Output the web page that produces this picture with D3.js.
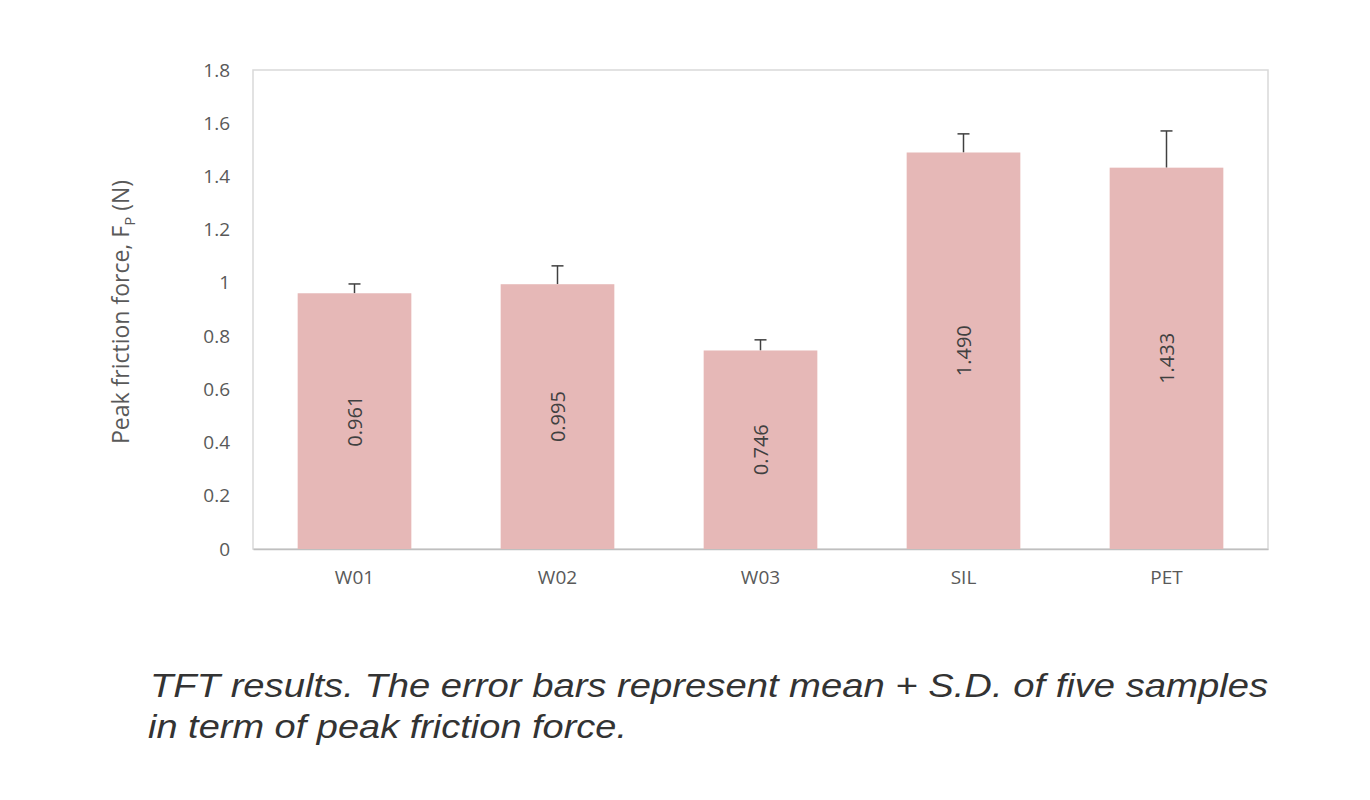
<!DOCTYPE html>
<html><head><meta charset="utf-8">
<script src="https://cdn.jsdelivr.net/npm/d3@7"></script>
<style>body{margin:0;background:#fff}</style>
</head><body>
<svg id="c" width="1370" height="800"></svg>
<script>
const categories = ["W01","W02","W03","SIL","PET"];
const means = [0.961,0.995,0.746,1.490,1.433];
const sds = [0.035,0.069,0.040,0.070,0.138];
const yTicks = [0,0.2,0.4,0.6,0.8,1,1.2,1.4,1.6,1.8];

const svg = d3.select("#c");
const L=253,R=1268,T=70,B=549;
const x = d3.scaleBand().domain(categories).range([L,R]).paddingInner(0.44).paddingOuter(0.22);
const y = d3.scaleLinear().domain([0,1.8]).range([B,T]);
const font="'Open Sans', 'Liberation Sans', sans-serif";

svg.append("rect").attr("x",L).attr("y",T).attr("width",R-L).attr("height",B-T)
  .attr("fill","none").attr("stroke","#d9d9d9").attr("stroke-width",1.5);

const ya = svg.append("g").attr("transform",`translate(${L},0)`)
  .call(d3.axisLeft(y).tickValues(yTicks).tickSize(0).tickPadding(23).tickFormat(d=>String(d)));
ya.select(".domain").remove();
ya.selectAll("text").attr("font-family",font).attr("font-size",19).attr("fill","#595959");

const xa = svg.append("g").attr("transform",`translate(0,${B})`)
  .call(d3.axisBottom(x).tickSize(0).tickPadding(22));
xa.select(".domain").attr("stroke","#bfbfbf").attr("stroke-width",1.5);
xa.selectAll("text").attr("font-family",font).attr("font-size",19).attr("fill","#595959");

const g = svg.append("g");
categories.forEach((c,i)=>{
  const cx = x(c)+x.bandwidth()/2;
  g.append("line").attr("x1",cx).attr("x2",cx).attr("y1",y(means[i])).attr("y2",y(means[i]+sds[i]))
    .attr("stroke","#404040").attr("stroke-width",1.5);
  g.append("line").attr("x1",cx-6).attr("x2",cx+6).attr("y1",y(means[i]+sds[i])).attr("y2",y(means[i]+sds[i]))
    .attr("stroke","#404040").attr("stroke-width",1.5);
  g.append("rect").attr("x",x(c)).attr("width",x.bandwidth()).attr("y",y(means[i])).attr("height",B-y(means[i]))
    .attr("fill","#e6b8b7");
  const my=(y(means[i])+B)/2;
  g.append("text").attr("transform",`translate(${cx+7},${my}) rotate(-90)`).attr("text-anchor","middle")
    .attr("font-family",font).attr("font-size",20).attr("fill","#404040").text(means[i].toFixed(3));
});

const yl = svg.append("text").attr("transform","translate(129,312) rotate(-90)").attr("text-anchor","middle")
  .attr("font-family",font).attr("font-size",23).attr("fill","#595959");
yl.append("tspan").text("Peak friction force, F");
yl.append("tspan").attr("font-size",15).attr("dy",6).text("P");
yl.append("tspan").attr("dy",-6).text(" (N)");

const cap = svg.append("g").attr("font-family","'Liberation Sans', Arial, sans-serif").attr("font-style","italic")
  .attr("font-size",34).attr("fill","#333");
cap.append("text").attr("x",150).attr("y",697).attr("textLength",1118).attr("lengthAdjust","spacingAndGlyphs")
  .text("TFT results. The error bars represent mean + S.D. of five samples");
cap.append("text").attr("x",148).attr("y",738).attr("textLength",479).attr("lengthAdjust","spacingAndGlyphs")
  .text("in term of peak friction force.");
</script>
</body></html>
